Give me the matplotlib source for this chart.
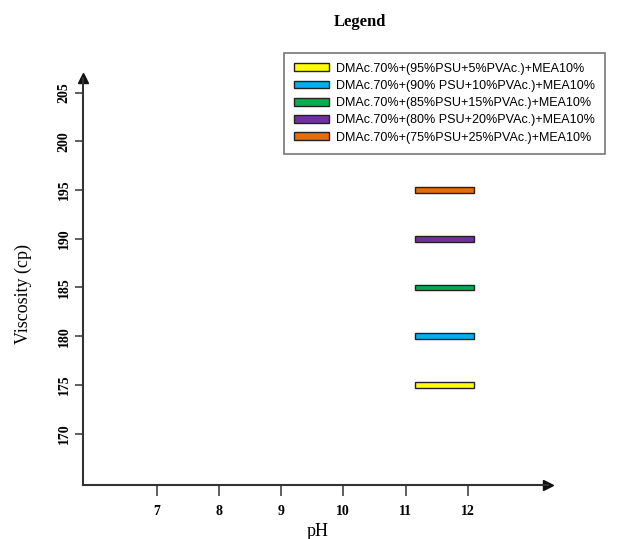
import matplotlib
matplotlib.use("Agg")
from matplotlib import pyplot as plt

# pH range of each sample (start, end) and its viscosity
series_labels = [
    "DMAc.70%+(95%PSU+5%PVAc.)+MEA10%",
    "DMAc.70%+(90% PSU+10%PVAc.)+MEA10%",
    "DMAc.70%+(85%PSU+15%PVAc.)+MEA10%",
    "DMAc.70%+(80% PSU+20%PVAc.)+MEA10%",
    "DMAc.70%+(75%PSU+25%PVAc.)+MEA10%",
]
ph_start = [11.15, 11.15, 11.15, 11.15, 11.15]
ph_end = [12.1, 12.1, 12.1, 12.1, 12.1]
viscosity = [175, 180, 185, 190, 195]
colors = ["#FFFF00", "#00B0F0", "#00B050", "#7030A0", "#E46C0A"]

x_ticks = [7, 8, 9, 10, 11, 12]
y_ticks = [170, 175, 180, 185, 190, 195, 200, 205]

serif = "Liberation Serif"

fig = plt.figure(figsize=(6.2, 5.39), dpi=100)
ax = fig.add_axes([0.134, 0.100, 0.75, 0.755])

for x0, x1, v, c, lab in zip(ph_start, ph_end, viscosity, colors, series_labels):
    ax.barh(v, x1 - x0, left=x0, height=0.6, color=c,
            edgecolor="#222222", linewidth=1.0, label=lab)

ax.set_xlim(5.82, 13.29)
ax.set_ylim(164.7, 206.5)
ax.set_xticks(x_ticks)
ax.set_yticks(y_ticks)
ax.set_xticklabels([str(t) for t in x_ticks], fontfamily=serif,
                   fontweight="bold", fontsize=10)
ax.set_yticklabels([str(t) for t in y_ticks], fontfamily=serif,
                   fontweight="bold", fontsize=10, rotation=90, va="center")
ax.tick_params(axis="x", direction="out", length=8, width=1.2,
               color="#444444", pad=6)
ax.tick_params(axis="y", direction="out", length=6, width=1.2,
               color="#444444", pad=3)

for side in ["top", "right"]:
    ax.spines[side].set_visible(False)
for side in ["left", "bottom"]:
    ax.spines[side].set_linewidth(1.5)
    ax.spines[side].set_color("#333333")

# arrow heads at the axis ends
ax.plot(1, 0, ">", color="#111111", markersize=7,
        transform=ax.transAxes, clip_on=False)
ax.plot(0, 1, "^", color="#111111", markersize=7,
        transform=ax.transAxes, clip_on=False)

ax.set_xlabel("pH", fontfamily=serif, fontsize=13)
ax.xaxis.set_label_coords(0.505, -0.092)
ax.set_ylabel("Viscosity (cp)", fontfamily=serif, fontsize=13)
ax.yaxis.set_label_coords(-0.11, 0.47)

fig.text(0.58, 0.96, "Legend", fontfamily=serif, fontweight="bold",
         fontsize=12, ha="center", va="center")

handles, labels = ax.get_legend_handles_labels()
leg = ax.legend(handles, labels, loc="upper left",
                bbox_to_anchor=(0.418, 1.078),
                prop={"family": "Liberation Sans", "size": 9},
                frameon=True, fancybox=False, edgecolor="#555555",
                handlelength=2.8, handleheight=0.6, labelspacing=0.42,
                borderpad=0.8, handletextpad=0.6)
leg.get_frame().set_linewidth(1.2)

fig.savefig("out.png", dpi=100)
